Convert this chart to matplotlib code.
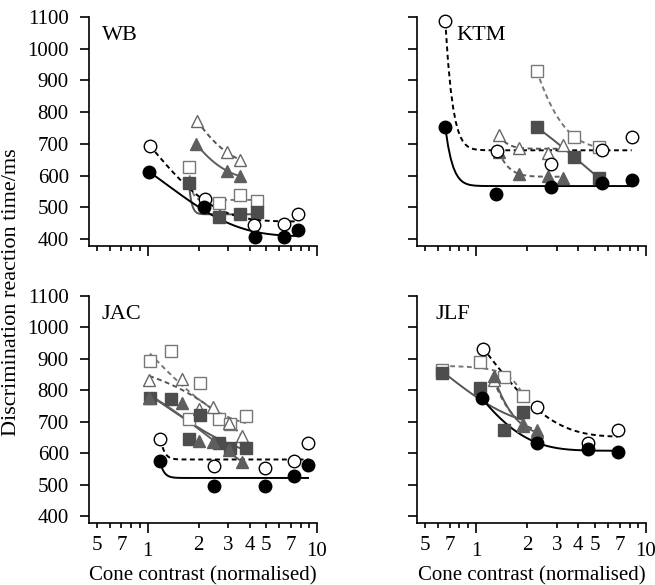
import numpy as np
import matplotlib
matplotlib.use('Agg')
from matplotlib import pyplot as plt
from matplotlib.ticker import FixedLocator, FixedFormatter, NullFormatter

# series keys: fc = filled circle, oc = open circle, fs/os = squares, ft/ot = triangles
WB = {
    'fc': ([1.02, 2.14, 4.29, 6.38, 7.74], [610, 500, 405, 405, 427]),
    'oc': ([1.03, 2.17, 4.25, 6.38, 7.74], [694, 525, 443, 446, 480]),
    'fs': ([1.75, 2.63, 3.51, 4.41], [577, 470, 480, 484]),
    'os': ([1.75, 2.63, 3.51, 4.41], [627, 512, 538, 520]),
    'ft': ([1.94, 2.94, 3.51], [699, 615, 598]),
    'ot': ([1.96, 2.94, 3.51], [773, 673, 650]),
}
KTM = {
    'fc': ([0.66, 1.32, 2.76, 5.54, 8.24], [752, 541, 565, 576, 586]),
    'oc': ([0.66, 1.33, 2.76, 5.49, 8.24], [1086, 678, 637, 681, 723]),
    'fs': ([2.28, 3.79, 5.32], [752, 658, 591]),
    'os': ([2.28, 3.79, 5.32], [930, 723, 689]),
    'ft': ([1.36, 1.80, 2.67, 3.23], [675, 605, 600, 593]),
    'ot': ([1.36, 1.80, 2.67, 3.23], [728, 688, 672, 697]),
}
JAC = {
    'fc': ([1.18, 2.46, 4.91, 7.30, 8.85], [574, 497, 497, 529, 562]),
    'oc': ([1.19, 2.46, 4.91, 7.30, 8.85], [645, 560, 552, 576, 632]),
    'fs': ([1.03, 1.38, 1.75, 2.05, 2.63, 3.08, 3.80], [774, 771, 645, 722, 634, 618, 618]),
    'os': ([1.03, 1.38, 1.75, 2.05, 2.63, 3.08, 3.80], [892, 924, 708, 822, 708, 694, 718]),
    'ft': ([1.02, 1.60, 2.01, 2.43, 3.01, 3.63], [774, 760, 640, 637, 611, 573]),
    'ot': ([1.02, 1.60, 2.01, 2.43, 3.01, 3.63], [834, 836, 740, 748, 695, 655]),
}
JLF = {
    'fc': ([1.08, 2.28, 4.54, 6.82], [775, 633, 614, 603]),
    'oc': ([1.10, 2.28, 4.54, 6.82], [933, 748, 633, 675]),
    'fs': ([0.63, 1.05, 1.47, 1.90], [854, 806, 675, 731]),
    'os': ([0.63, 1.05, 1.47, 1.90], [866, 890, 843, 782]),
    'ft': ([1.27, 1.90, 2.30], [845, 688, 666]),
    'ot': ([1.27, 1.90, 2.30], [832, 693, 673]),
}
panels = [('WB', WB), ('KTM', KTM), ('JAC', JAC), ('JLF', JLF)]

y_ticks = [400, 500, 600, 700, 800, 900, 1000, 1100]
x_minor = [0.5, 0.6, 0.7, 0.8, 0.9, 2, 3, 4, 5, 6, 7, 8, 9]
x_minor_labels = ['5', '', '7', '', '', '2', '3', '4', '5', '', '7', '', '']
x_major = [1, 10]
x_major_labels = ['1', '10']

styles = {
    'fc': dict(marker='o', ms=9, mfc='black', mec='black', color='black', ls='-'),
    'oc': dict(marker='o', ms=9, mfc='white', mec='black', color='black', ls='--'),
    'fs': dict(marker='s', ms=8, mfc='#4d4d4d', mec='#4d4d4d', color='#555555', ls='-'),
    'os': dict(marker='s', ms=8, mfc='white', mec='#777777', color='#777777', ls='--'),
    'ft': dict(marker='^', ms=9, mfc='#5e5e5e', mec='#5e5e5e', color='#5e5e5e', ls='-'),
    'ot': dict(marker='^', ms=9, mfc='white', mec='#666666', color='#555555', ls='--'),
}


def fit_curve(x, y):
    """Least-squares fit of y = a + b*exp(s*x), returned on a fine grid."""
    x = np.asarray(x, float)
    y = np.asarray(y, float)
    best = None
    rates = np.concatenate([-np.geomspace(0.05, 15, 200), np.geomspace(0.05, 3, 80)])
    for s in rates:
        A = np.column_stack([np.ones_like(x), np.exp(s * x)])
        coef, *_ = np.linalg.lstsq(A, y, rcond=None)
        err = np.sum((A @ coef - y) ** 2)
        if best is None or err < best[0]:
            best = (err, s, coef)
    _, s, coef = best
    xs = np.linspace(x.min(), x.max(), 300)
    return xs, coef[0] + coef[1] * np.exp(s * xs)


plt.rcParams['font.family'] = ['Liberation Serif', 'DejaVu Serif']
plt.rcParams['font.size'] = 15

fig = plt.figure(figsize=(6.55, 5.85), dpi=100)
boxes = [
    [89 / 655, 1 - 246 / 585, 228 / 655, 229 / 585],
    [417 / 655, 1 - 246 / 585, 229 / 655, 229 / 585],
    [89 / 655, 1 - 523 / 585, 228 / 655, 227 / 585],
    [417 / 655, 1 - 523 / 585, 229 / 655, 227 / 585],
]
label_x = [0.057, 0.17, 0.057, 0.079]

for i, (name, data) in enumerate(panels):
    ax = fig.add_axes(boxes[i])
    for key in ['os', 'ot', 'fs', 'ft', 'oc', 'fc']:
        xs, ys = data[key]
        st = dict(styles[key])
        if name == 'KTM' and key == 'ft':
            st['ls'] = '--'
        cx, cy = fit_curve(xs, ys)
        ax.plot(cx, cy, color=st['color'], ls=st['ls'], lw=1.4,
                dashes=(2.5, 1.8) if st['ls'] == '--' else (None, None), zorder=2)
        ax.plot(xs, ys, ls='none', marker=st['marker'], ms=st['ms'],
                mfc=st['mfc'], mec=st['mec'], mew=1.0, zorder=3, clip_on=False)

    ax.set_xscale('log')
    ax.set_xlim(0.45, 10)
    ax.set_ylim(378, 1100)
    ax.spines['top'].set_visible(False)
    ax.spines['right'].set_visible(False)
    ax.spines['left'].set_linewidth(1.2)
    ax.spines['bottom'].set_linewidth(1.2)

    ax.xaxis.set_major_locator(FixedLocator(x_major))
    ax.xaxis.set_minor_locator(FixedLocator(x_minor))
    ax.set_yticks(y_ticks)
    ax.tick_params(axis='x', which='major', direction='out', length=7.5, width=1.2, pad=6)
    ax.tick_params(axis='x', which='minor', direction='out', length=3.5, width=1.2, pad=6)
    ax.tick_params(axis='y', direction='out', length=6.5, width=1.2, pad=8)

    if i >= 2:
        ax.xaxis.set_major_formatter(FixedFormatter(x_major_labels))
        ax.xaxis.set_minor_formatter(FixedFormatter(x_minor_labels))
        ax.set_xlabel('Cone contrast (normalised)', labelpad=4)
    else:
        ax.xaxis.set_major_formatter(NullFormatter())
        ax.xaxis.set_minor_formatter(NullFormatter())
    if i % 2 == 1:
        ax.set_yticklabels([])
    else:
        ax.set_yticklabels([str(v) for v in y_ticks])

    ax.text(label_x[i], 0.92, name, transform=ax.transAxes, ha='left', va='center',
            fontsize=16)

fig.text(0.018, 0.5, 'Discrimination reaction time/ms', rotation=90,
         ha='center', va='center', fontsize=16)

fig.savefig('out.png', dpi=100)
